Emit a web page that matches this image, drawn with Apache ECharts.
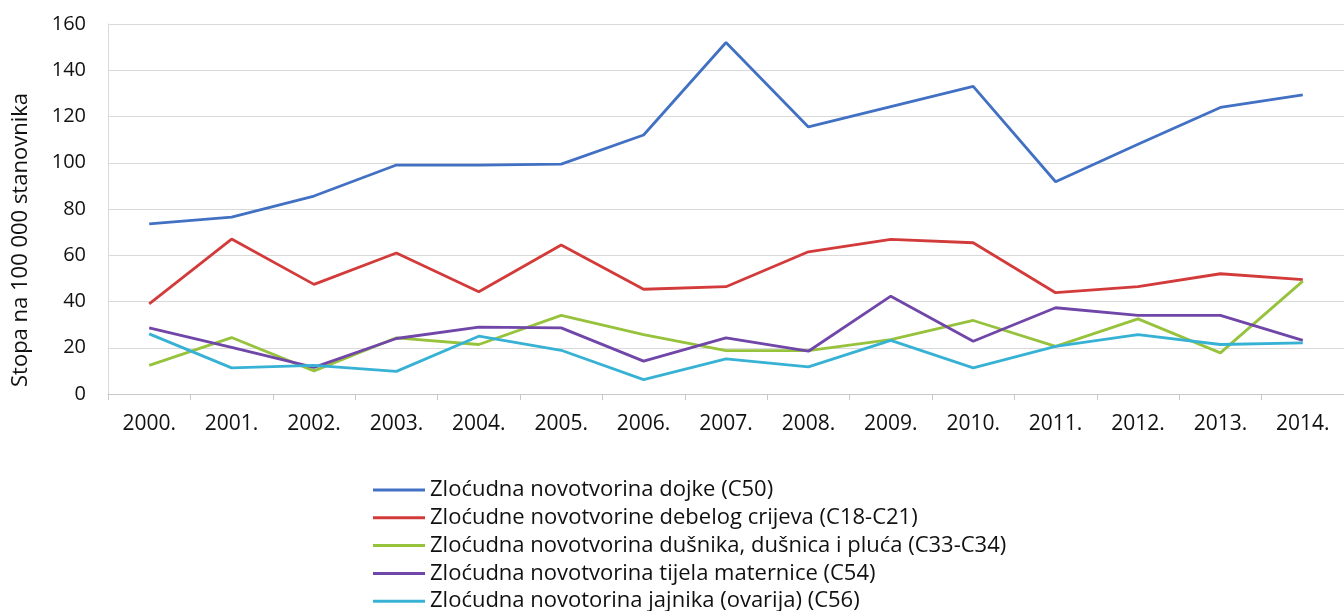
<!DOCTYPE html>
<html>
<head>
<meta charset="utf-8">
<script src="https://cdn.jsdelivr.net/npm/echarts@6/dist/echarts.min.js"></script>
<style>html,body{margin:0;padding:0;background:#fff}#c{width:1344px;height:611px}</style>
</head>
<body>
<div id="c"></div>
<script>
const years = ['2000.','2001.','2002.','2003.','2004.','2005.','2006.','2007.','2008.','2009.','2010.','2011.','2012.','2013.','2014.'];
const yTicks = [0,20,40,60,80,100,120,140,160];
const yTitle = 'Stopa na 100 000 stanovnika';
const names = [
  'Zloćudna novotvorina dojke (C50)',
  'Zloćudne novotvorine debelog crijeva (C18-C21)',
  'Zloćudna novotvorina dušnika, dušnica i pluća (C33-C34)',
  'Zloćudna novotvorina tijela maternice (C54)',
  'Zloćudna novotorina jajnika (ovarija) (C56)'
];
const dojke    = [73.6,76.5,85.6,99,99,99.4,112,152,115.5,124.3,133,91.8,108,123.9,129.4];
const crijeva  = [39,67,47.4,61,44.2,64.4,45.3,46.4,61.5,66.9,65.4,43.8,46.4,52,49.5];
const pluca    = [12.4,24.4,10,24.3,21.4,34,25.7,18.8,18.8,23.5,31.8,20.6,32.5,17.8,48.8];
const maternica= [28.6,20.2,11.5,24,28.9,28.6,14.2,24.3,18.5,42.3,22.8,37.3,34,34,23.2];
const jajnik   = [26,11.3,12.4,9.8,25,18.9,6.2,15.2,11.7,23.2,11.3,20.6,25.7,21.4,22.1];
const colors = ['#4271c4','#d33b3b','#96c23c','#7046a8','#38b2d4'];
const seriesData = [dojke, crijeva, pluca, maternica, jajnik];

const chart = echarts.init(document.getElementById('c'));
const font = '"Open Sans", Lato, sans-serif';
chart.setOption({
  animation: false,
  textStyle: {fontFamily: font},
  grid: {left: 108, right: -10, top: 24, bottom: 217},
  graphic: [{
    type: 'text', x: 21, y: 240, rotation: Math.PI / 2,
    style: {text: yTitle, fontSize: 22, fontFamily: font, fill: '#111',
            align: 'center', verticalAlign: 'middle'}
  }],
  legend: {
    orient: 'vertical', left: 368, top: 474, height: 300,
    icon: 'rect', itemWidth: 52, itemHeight: 3, itemGap: 5.8,
    textStyle: {fontSize: 22, color: '#111', fontFamily: font},
    data: names
  },
  xAxis: {
    type: 'category', data: years, boundaryGap: true,
    axisLine: {lineStyle: {color: '#c8c8c8', width: 1}},
    axisTick: {show: true, length: 6, lineStyle: {color: '#c8c8c8'}},
    axisLabel: {fontSize: 21, color: '#111', margin: 20, fontFamily: font}
  },
  yAxis: {
    type: 'value', min: 0, max: 160, interval: 20,
    axisLine: {show: true, lineStyle: {color: '#d9d9d9'}},
    axisTick: {show: false},
    axisLabel: {fontSize: 20, color: '#111', margin: 22, fontFamily: font,
      formatter: v => yTicks.includes(v) ? String(v) : ''},
    splitLine: {lineStyle: {color: '#d9d9d9', width: 1}}
  },
  series: seriesData.map((d, i) => ({
    name: names[i], type: 'line', data: d, symbol: 'none',
    lineStyle: {color: colors[i], width: 2.8},
    itemStyle: {color: colors[i]}
  }))
});
</script>
</body>
</html>
